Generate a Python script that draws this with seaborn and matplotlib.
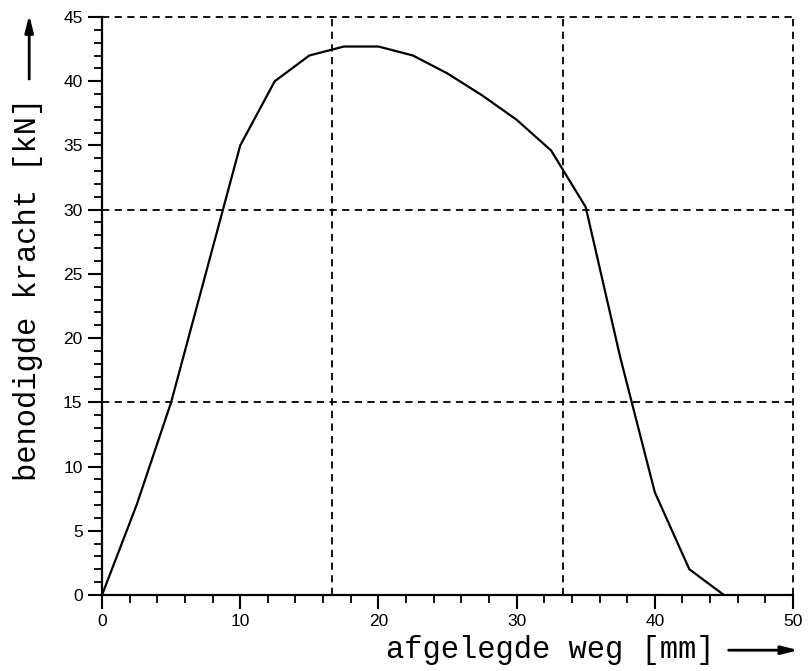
import numpy as np
import pandas as pd
import matplotlib
matplotlib.use("Agg")
import matplotlib.pyplot as plt
import seaborn as sns
from matplotlib.ticker import MultipleLocator

# gemeten kracht-weg kromme
weg_mm = [0, 2.5, 5, 7.5, 10, 12.5, 15, 17.5, 20, 22.5, 25, 27.5, 30, 32.5,
          35, 37.5, 40, 42.5, 45]
kracht_kN = [0, 7, 15, 25, 35, 40, 42, 42.7, 42.7, 42, 40.6, 38.9, 37, 34.6,
             30.2, 18.5, 8, 2, 0]

x_grid = [50 / 3, 100 / 3, 50]
y_grid = [15, 30, 45]

df = pd.DataFrame({"weg": weg_mm, "kracht": kracht_kN})

sns.set_style("ticks")
plt.rcParams["font.family"] = ["Liberation Sans", "DejaVu Sans"]
plt.rcParams["text.color"] = "black"

fig = plt.figure(figsize=(8.11, 6.71), dpi=100)
ax = fig.add_axes([0.1258, 0.1133, 0.852, 0.8614])

sns.lineplot(data=df, x="weg", y="kracht", color="black", linewidth=1.6, ax=ax)

for xv in x_grid:
    ax.axvline(xv, color="black", linestyle=(0, (4, 3)), linewidth=1.3, clip_on=False)
for yv in y_grid:
    ax.axhline(yv, color="black", linestyle=(0, (4, 3)), linewidth=1.3, clip_on=False)

ax.set_xlim(0, 50)
ax.set_ylim(0, 45)
ax.xaxis.set_major_locator(MultipleLocator(10))
ax.xaxis.set_minor_locator(MultipleLocator(2))
ax.yaxis.set_major_locator(MultipleLocator(5))
ax.yaxis.set_minor_locator(MultipleLocator(1))

for side in ["top", "right"]:
    ax.spines[side].set_visible(False)
for side in ["left", "bottom"]:
    ax.spines[side].set_linewidth(1.6)
    ax.spines[side].set_color("black")

ax.tick_params(which="major", direction="out", length=10, width=1.5,
               labelsize=12.5, colors="black", pad=4)
ax.tick_params(which="minor", direction="out", length=6, width=1.3, colors="black")

ax.set_xlabel("")
ax.set_ylabel("")

mono = ["Liberation Mono", "DejaVu Sans Mono"]
fig.text(0.678, 0.032, "afgelegde weg [mm]", family=mono, fontsize=22,
         color="black", ha="center", va="center")
fig.text(0.035, 0.568, "benodigde kracht [kN]", family=mono, fontsize=22,
         color="black", ha="center", va="center", rotation=90)

arrow = dict(arrowstyle="-|>,head_length=1.0,head_width=0.25", color="black", lw=2)
ax.annotate("", xy=(0.988, 0.031), xytext=(0.895, 0.031),
            xycoords="figure fraction", arrowprops=arrow)
ax.annotate("", xy=(0.036, 0.982), xytext=(0.036, 0.878),
            xycoords="figure fraction", arrowprops=arrow)

fig.savefig("out.png", dpi=100)
